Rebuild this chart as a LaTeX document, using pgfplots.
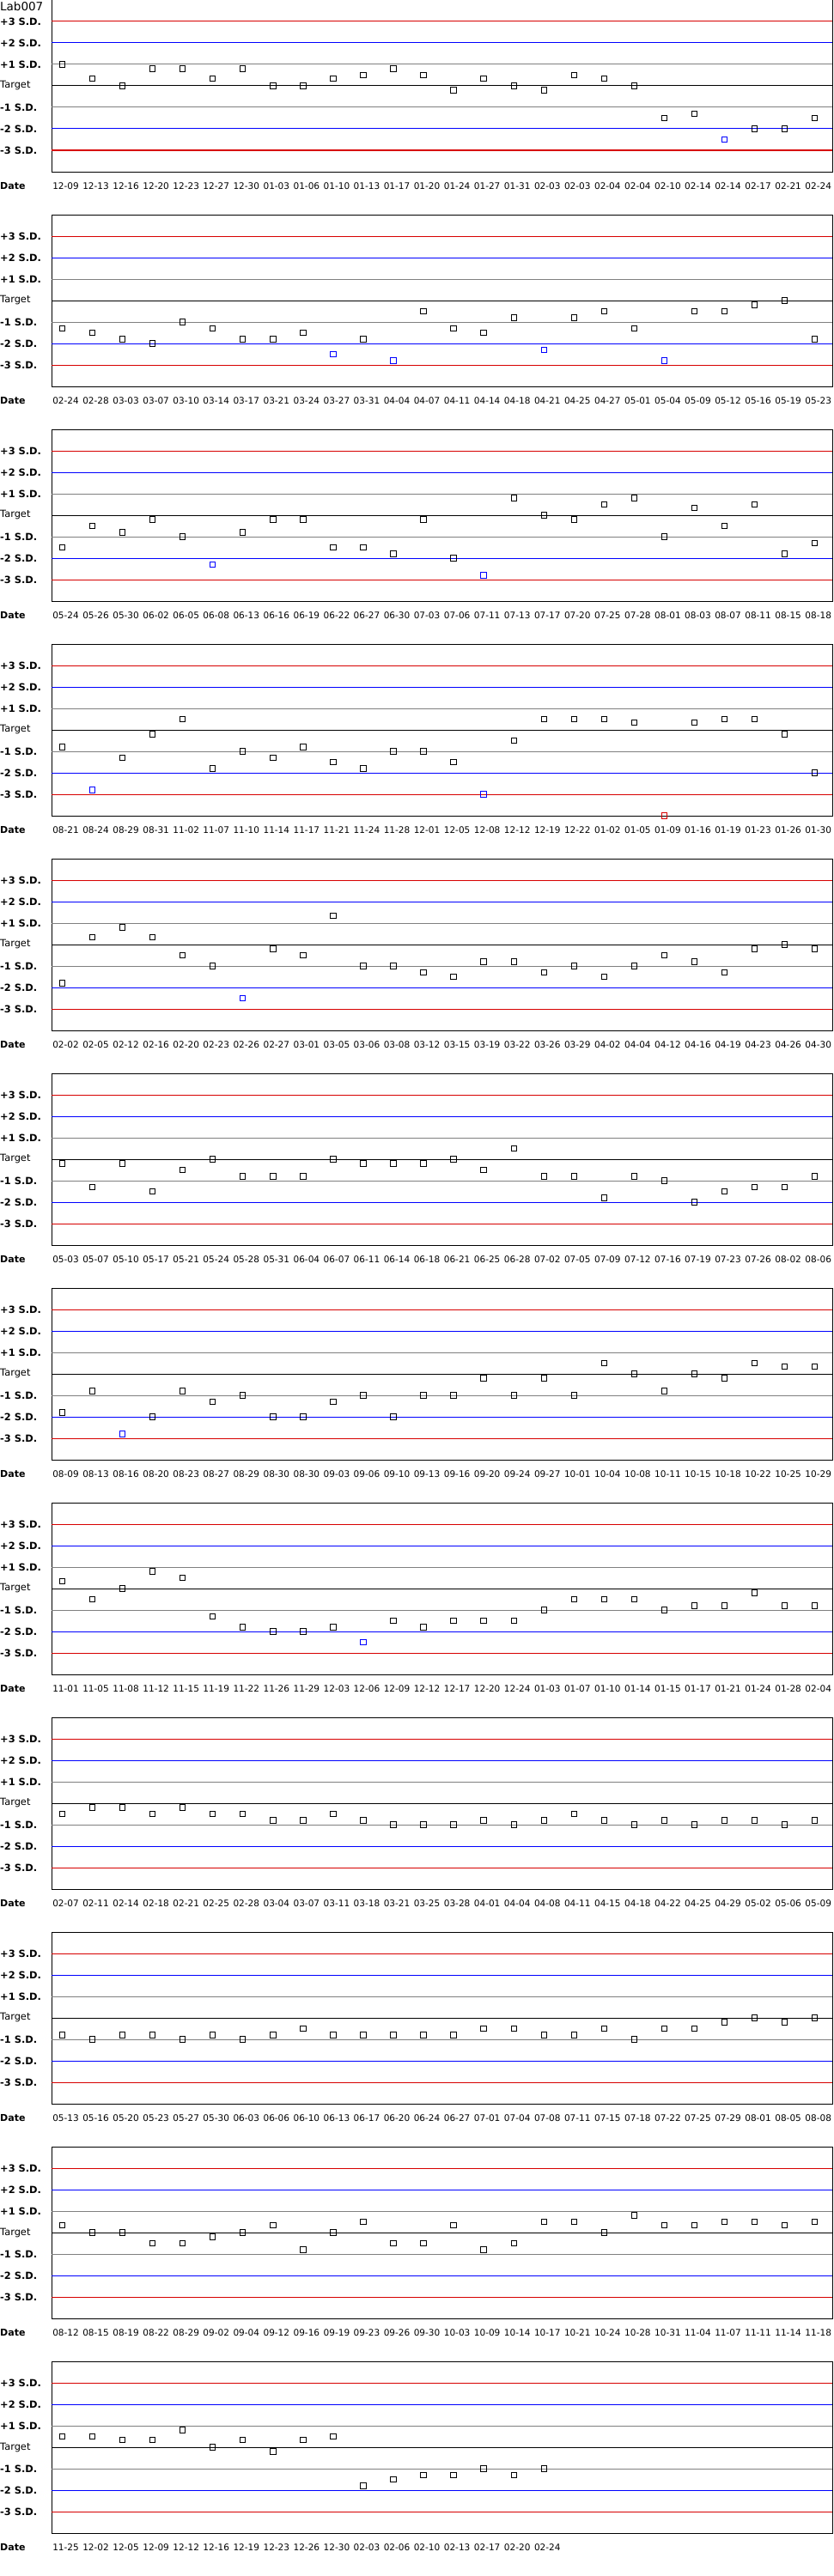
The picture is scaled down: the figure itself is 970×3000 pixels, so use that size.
\documentclass[border=0pt]{standalone}
\usepackage{fontspec}
\setmainfont{DejaVu Sans}
\usepackage{pgfplots}
\usepackage{pgfplotstable}
\pgfplotsset{compat=1.18}

\definecolor{sdred}{RGB}{215,0,0}
\definecolor{sdblue}{RGB}{0,0,255}
\definecolor{sdgray}{RGB}{128,128,128}

% values in S.D. units; c: n = normal, b = beyond 2 S.D., r = beyond 3 S.D.
\pgfplotstableread{
d v c
12-09 1.0 n
12-13 0.33 n
12-16 0 n
12-20 0.8 n
12-23 0.8 n
12-27 0.33 n
12-30 0.8 n
01-03 0 n
01-06 0 n
01-10 0.33 n
01-13 0.5 n
01-17 0.8 n
01-20 0.5 n
01-24 -0.2 n
01-27 0.33 n
01-31 0 n
02-03 -0.2 n
02-03 0.5 n
02-04 0.33 n
02-04 0 n
02-10 -1.5 n
02-14 -1.3 n
02-14 -2.5 b
02-17 -2.0 n
02-21 -2.0 n
02-24 -1.5 n
}\tA

\pgfplotstableread{
d v c
02-24 -1.3 n
02-28 -1.5 n
03-03 -1.8 n
03-07 -2.0 n
03-10 -1.0 n
03-14 -1.3 n
03-17 -1.8 n
03-21 -1.8 n
03-24 -1.5 n
03-27 -2.5 b
03-31 -1.8 n
04-04 -2.8 b
04-07 -0.5 n
04-11 -1.3 n
04-14 -1.5 n
04-18 -0.8 n
04-21 -2.3 b
04-25 -0.8 n
04-27 -0.5 n
05-01 -1.3 n
05-04 -2.8 b
05-09 -0.5 n
05-12 -0.5 n
05-16 -0.2 n
05-19 0 n
05-23 -1.8 n
}\tB

\pgfplotstableread{
d v c
05-24 -1.5 n
05-26 -0.5 n
05-30 -0.8 n
06-02 -0.2 n
06-05 -1.0 n
06-08 -2.3 b
06-13 -0.8 n
06-16 -0.2 n
06-19 -0.2 n
06-22 -1.5 n
06-27 -1.5 n
06-30 -1.8 n
07-03 -0.2 n
07-06 -2.0 n
07-11 -2.8 b
07-13 0.8 n
07-17 0 n
07-20 -0.2 n
07-25 0.5 n
07-28 0.8 n
08-01 -1.0 n
08-03 0.33 n
08-07 -0.5 n
08-11 0.5 n
08-15 -1.8 n
08-18 -1.3 n
}\tC

\pgfplotstableread{
d v c
08-21 -0.8 n
08-24 -2.8 b
08-29 -1.3 n
08-31 -0.2 n
11-02 0.5 n
11-07 -1.8 n
11-10 -1.0 n
11-14 -1.3 n
11-17 -0.8 n
11-21 -1.5 n
11-24 -1.8 n
11-28 -1.0 n
12-01 -1.0 n
12-05 -1.5 n
12-08 -3.0 b
12-12 -0.5 n
12-19 0.5 n
12-22 0.5 n
01-02 0.5 n
01-05 0.33 n
01-09 -4.0 r
01-16 0.33 n
01-19 0.5 n
01-23 0.5 n
01-26 -0.2 n
01-30 -2.0 n
}\tD

\pgfplotstableread{
d v c
02-02 -1.8 n
02-05 0.33 n
02-12 0.8 n
02-16 0.33 n
02-20 -0.5 n
02-23 -1.0 n
02-26 -2.5 b
02-27 -0.2 n
03-01 -0.5 n
03-05 1.33 n
03-06 -1.0 n
03-08 -1.0 n
03-12 -1.3 n
03-15 -1.5 n
03-19 -0.8 n
03-22 -0.8 n
03-26 -1.3 n
03-29 -1.0 n
04-02 -1.5 n
04-04 -1.0 n
04-12 -0.5 n
04-16 -0.8 n
04-19 -1.3 n
04-23 -0.2 n
04-26 0 n
04-30 -0.2 n
}\tE

\pgfplotstableread{
d v c
05-03 -0.2 n
05-07 -1.3 n
05-10 -0.2 n
05-17 -1.5 n
05-21 -0.5 n
05-24 0 n
05-28 -0.8 n
05-31 -0.8 n
06-04 -0.8 n
06-07 0 n
06-11 -0.2 n
06-14 -0.2 n
06-18 -0.2 n
06-21 0 n
06-25 -0.5 n
06-28 0.5 n
07-02 -0.8 n
07-05 -0.8 n
07-09 -1.8 n
07-12 -0.8 n
07-16 -1.0 n
07-19 -2.0 n
07-23 -1.5 n
07-26 -1.3 n
08-02 -1.3 n
08-06 -0.8 n
}\tF

\pgfplotstableread{
d v c
08-09 -1.8 n
08-13 -0.8 n
08-16 -2.8 b
08-20 -2.0 n
08-23 -0.8 n
08-27 -1.3 n
08-29 -1.0 n
08-30 -2.0 n
08-30 -2.0 n
09-03 -1.3 n
09-06 -1.0 n
09-10 -2.0 n
09-13 -1.0 n
09-16 -1.0 n
09-20 -0.2 n
09-24 -1.0 n
09-27 -0.2 n
10-01 -1.0 n
10-04 0.5 n
10-08 0 n
10-11 -0.8 n
10-15 0 n
10-18 -0.2 n
10-22 0.5 n
10-25 0.33 n
10-29 0.33 n
}\tG

\pgfplotstableread{
d v c
11-01 0.33 n
11-05 -0.5 n
11-08 0 n
11-12 0.8 n
11-15 0.5 n
11-19 -1.3 n
11-22 -1.8 n
11-26 -2.0 n
11-29 -2.0 n
12-03 -1.8 n
12-06 -2.5 b
12-09 -1.5 n
12-12 -1.8 n
12-17 -1.5 n
12-20 -1.5 n
12-24 -1.5 n
01-03 -1.0 n
01-07 -0.5 n
01-10 -0.5 n
01-14 -0.5 n
01-15 -1.0 n
01-17 -0.8 n
01-21 -0.8 n
01-24 -0.2 n
01-28 -0.8 n
02-04 -0.8 n
}\tH

\pgfplotstableread{
d v c
02-07 -0.5 n
02-11 -0.2 n
02-14 -0.2 n
02-18 -0.5 n
02-21 -0.2 n
02-25 -0.5 n
02-28 -0.5 n
03-04 -0.8 n
03-07 -0.8 n
03-11 -0.5 n
03-18 -0.8 n
03-21 -1.0 n
03-25 -1.0 n
03-28 -1.0 n
04-01 -0.8 n
04-04 -1.0 n
04-08 -0.8 n
04-11 -0.5 n
04-15 -0.8 n
04-18 -1.0 n
04-22 -0.8 n
04-25 -1.0 n
04-29 -0.8 n
05-02 -0.8 n
05-06 -1.0 n
05-09 -0.8 n
}\tI

\pgfplotstableread{
d v c
05-13 -0.8 n
05-16 -1.0 n
05-20 -0.8 n
05-23 -0.8 n
05-27 -1.0 n
05-30 -0.8 n
06-03 -1.0 n
06-06 -0.8 n
06-10 -0.5 n
06-13 -0.8 n
06-17 -0.8 n
06-20 -0.8 n
06-24 -0.8 n
06-27 -0.8 n
07-01 -0.5 n
07-04 -0.5 n
07-08 -0.8 n
07-11 -0.8 n
07-15 -0.5 n
07-18 -1.0 n
07-22 -0.5 n
07-25 -0.5 n
07-29 -0.2 n
08-01 0 n
08-05 -0.2 n
08-08 0 n
}\tJ

\pgfplotstableread{
d v c
08-12 0.33 n
08-15 0 n
08-19 0 n
08-22 -0.5 n
08-29 -0.5 n
09-02 -0.2 n
09-04 0 n
09-12 0.33 n
09-16 -0.8 n
09-19 0 n
09-23 0.5 n
09-26 -0.5 n
09-30 -0.5 n
10-03 0.33 n
10-09 -0.8 n
10-14 -0.5 n
10-17 0.5 n
10-21 0.5 n
10-24 0 n
10-28 0.8 n
10-31 0.33 n
11-04 0.33 n
11-07 0.5 n
11-11 0.5 n
11-14 0.33 n
11-18 0.5 n
}\tK

\pgfplotstableread{
d v c
11-25 0.5 n
12-02 0.5 n
12-05 0.33 n
12-09 0.33 n
12-12 0.8 n
12-16 0 n
12-19 0.33 n
12-23 -0.2 n
12-26 0.33 n
12-30 0.5 n
02-03 -1.8 n
02-06 -1.5 n
02-10 -1.3 n
02-13 -1.3 n
02-17 -1.0 n
02-20 -1.3 n
02-24 -1.0 n
}\tL

\def\xa{-0.357}
\def\xb{25.58}

\pgfplotsset{
  qc/.style={
    scale only axis, width=909pt, height=200pt,
    anchor=north west,
    xmin=\xa, xmax=\xb, ymin=-4, ymax=4,
    clip=false,
    axis line style={black, line width=1pt},
    major tick length=0pt,
    ytick={-3,-2,-1,0,1,2,3},
    yticklabels={{\bfseries -3 S.D.}, {\bfseries -2 S.D.}, {\bfseries -1 S.D.}, Target,
                 {\bfseries +1 S.D.}, {\bfseries +2 S.D.}, {\bfseries +3 S.D.}},
    yticklabel style={anchor=west, inner sep=0pt, xshift=-60pt,
                      font=\fontsize{11.4}{13}\selectfont},
    xticklabel style={anchor=center, inner sep=0pt, yshift=-16.7pt, xshift=4pt,
                      font=\fontsize{10.5}{12}\selectfont},
    /pgf/number format/assume math mode=true,
  },
  sdline/.style={no marks, line width=1pt, forget plot},
}

% one control panel: #1 row, #2 table, #3 last index
\newcommand\qcpanel[3]{%
  \begin{axis}[qc, at={(0pt,-250pt*#1)}, xshift=60pt,
               xtick={0,...,#3}, xticklabels from table={#2}{d}]
    \addplot[sdline, sdred]  coordinates {(\xa,3) (\xb,3)};
    \addplot[sdline, sdblue] coordinates {(\xa,2) (\xb,2)};
    \addplot[sdline, sdgray] coordinates {(\xa,1) (\xb,1)};
    \addplot[sdline, black]  coordinates {(\xa,0) (\xb,0)};
    \addplot[sdline, sdgray] coordinates {(\xa,-1) (\xb,-1)};
    \addplot[sdline, sdblue] coordinates {(\xa,-2) (\xb,-2)};
    \addplot[sdline, sdred]  coordinates {(\xa,-3) (\xb,-3)};
    \addplot[scatter, only marks, mark size=3.2pt,
             scatter src=explicit symbolic,
             scatter/classes={
               n={mark=square, draw=black, line width=1pt},
               b={mark=square, draw=sdblue, line width=1pt},
               r={mark=square, draw=sdred, line width=1pt}}]
      table[x expr=\coordindex, y=v, meta=c] {#2};
    \node[anchor=west, inner sep=0pt, xshift=-60pt, yshift=-16.7pt,
          font=\fontsize{11}{13}\selectfont\bfseries] at (rel axis cs:0,0) {Date};
  \end{axis}}

\begin{document}
\begin{tikzpicture}
\useasboundingbox (0pt,0pt) rectangle (970pt,-3000pt);
\qcpanel{0}{\tA}{25}
\qcpanel{1}{\tB}{25}
\qcpanel{2}{\tC}{25}
\qcpanel{3}{\tD}{25}
\qcpanel{4}{\tE}{25}
\qcpanel{5}{\tF}{25}
\qcpanel{6}{\tG}{25}
\qcpanel{7}{\tH}{25}
\qcpanel{8}{\tI}{25}
\qcpanel{9}{\tJ}{25}
\qcpanel{10}{\tK}{25}
\qcpanel{11}{\tL}{16}
\node[anchor=base west, inner sep=0pt, font=\fontsize{13.5}{15}\selectfont]
  at (0pt,-12.7pt) {Lab007};
\end{tikzpicture}
\end{document}
